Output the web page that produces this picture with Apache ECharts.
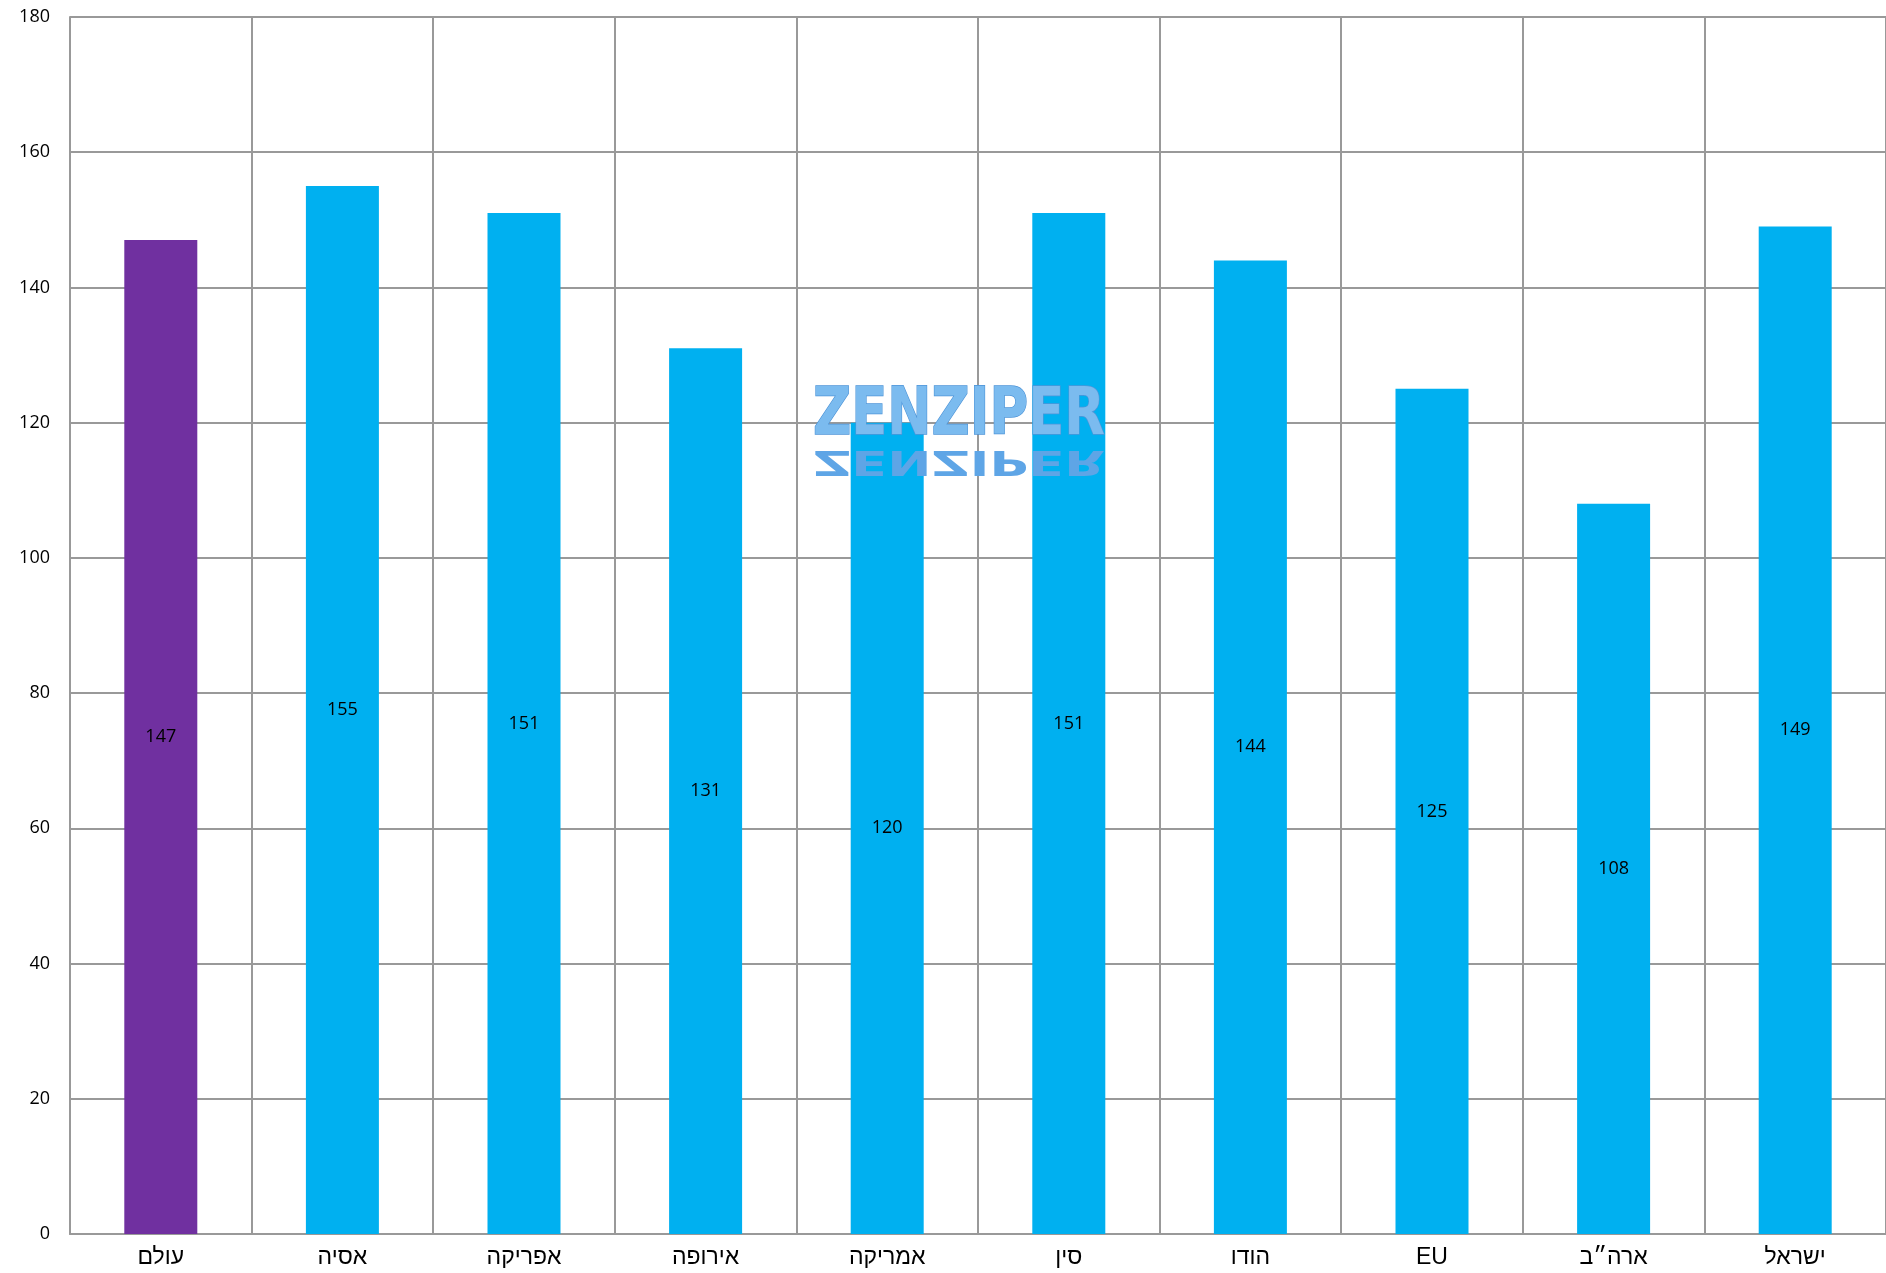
<!DOCTYPE html>
<html>
<head>
<meta charset="utf-8">
<script src="https://cdn.jsdelivr.net/npm/echarts@6/dist/echarts.min.js"></script>
<style>html,body{margin:0;padding:0;background:#fff}#c{width:1886px;height:1273px}</style>
</head>
<body>
<div id="c"></div>
<script>
const categories = ['עולם','אסיה','אפריקה','אירופה','אמריקה','סין','הודו','EU','ארה״ב','ישראל'];
const values = [147, 155, 151, 131, 120, 151, 144, 125, 108, 149];
const barColors = ['#7030A0','#00B0F0','#00B0F0','#00B0F0','#00B0F0','#00B0F0','#00B0F0','#00B0F0','#00B0F0','#00B0F0'];
const yTicks = { min: 0, max: 180, interval: 20 };

const chart = echarts.init(document.getElementById('c'));
chart.setOption({
  animation: false,
  backgroundColor: '#fff',
  grid: { left: 70, right: -4, top: 17, bottom: 39, containLabel: false },
  xAxis: {
    type: 'category',
    data: categories,
    boundaryGap: true,
    axisLine: { show: true, lineStyle: { color: '#999', width: 2 } },
    axisTick: { show: false },
    splitLine: { show: true, lineStyle: { color: '#999', width: 2 } },
    axisLabel: { color: '#000', fontSize: 23, fontFamily: 'Liberation Sans, DejaVu Sans', margin: 12 }
  },
  yAxis: {
    type: 'value',
    min: yTicks.min, max: yTicks.max, interval: yTicks.interval,
    axisLine: { show: true, lineStyle: { color: '#999', width: 2 } },
    axisTick: { show: false },
    splitLine: { show: true, lineStyle: { color: '#999', width: 2 } },
    axisLabel: { color: '#000', fontSize: 18, fontFamily: 'Open Sans, Liberation Sans', margin: 20 }
  },
  series: [{
    type: 'bar',
    barWidth: 73,
    data: values.map((v, i) => ({ value: v, itemStyle: { color: barColors[i] } })),
    label: { show: true, position: 'inside', color: '#000', fontSize: 18, fontFamily: 'Open Sans, Liberation Sans' }
  }],
  graphic: [
    {
      type: 'text', x: 813, y: 384, z: 100, scaleX: 0.8,
      style: {
        text: 'ZENZIPER', fontSize: 66, fontWeight: 'bold', fontFamily: 'DejaVu Sans',
        fill: '#7bbbef',
        stroke: '#4f95d8', lineWidth: 1.5,
        shadowColor: 'rgba(0,30,90,0.4)', shadowBlur: 5, shadowOffsetY: 3
      }
    },
    {
      type: 'text', x: 813, y: 476, z: 99, scaleX: 0.8, scaleY: -0.5, opacity: 0.25,
      style: {
        text: 'ZENZIPER', fontSize: 66, fontWeight: 'bold', fontFamily: 'DejaVu Sans',
        fill: '#5ea5e6'
      }
    }
  ]
});
</script>
</body>
</html>
